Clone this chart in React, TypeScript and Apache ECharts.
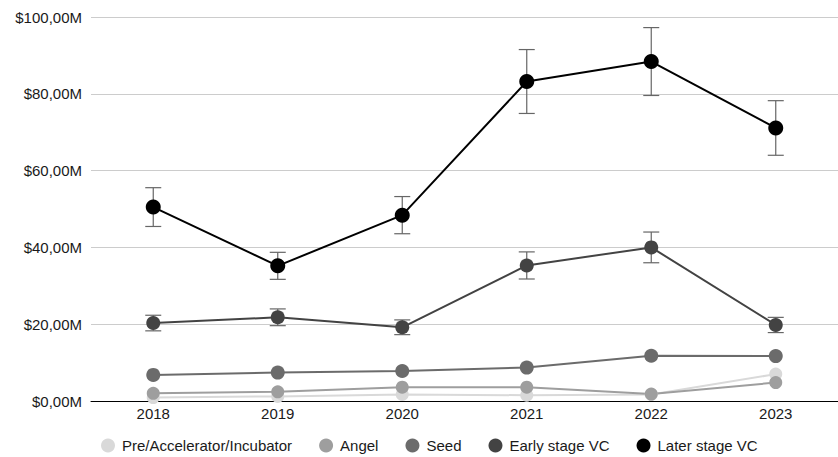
import React, { useEffect, useRef } from "react";
import * as echarts from "echarts";

const years = ["2018", "2019", "2020", "2021", "2022", "2023"];
const preAccelerator = [0.9, 1.2, 1.7, 1.5, 1.7, 7.0];
const angel = [2.0, 2.4, 3.6, 3.6, 1.8, 4.8];
const seed = [6.8, 7.4, 7.8, 8.7, 11.8, 11.7];
const earlyStage = [20.3, 21.8, 19.2, 35.3, 40.0, 19.8];
const laterStage = [50.5, 35.2, 48.4, 83.2, 88.4, 71.1];
const yTicks = [0, 20, 40, 60, 80, 100];
const errorPct = 0.1; // percent error bars, as in the source chart

const FONT = "Arial, 'Liberation Sans', sans-serif";

function errorSeries(values: number[]) {
  return {
    type: "custom",
    silent: true,
    z: 1,
    data: values.map((v, i) => [i, v * (1 - errorPct), v * (1 + errorPct)]),
    renderItem: (params: any, api: any) => {
      const x = api.value(0);
      const lo = api.coord([x, api.value(1)]);
      const hi = api.coord([x, api.value(2)]);
      const half = 8;
      const style = { stroke: "#666666", lineWidth: 1.2 };
      return {
        type: "group",
        children: [
          { type: "line", shape: { x1: lo[0], y1: lo[1], x2: hi[0], y2: hi[1] }, style },
          { type: "line", shape: { x1: hi[0] - half, y1: hi[1], x2: hi[0] + half, y2: hi[1] }, style },
          { type: "line", shape: { x1: lo[0] - half, y1: lo[1], x2: lo[0] + half, y2: lo[1] }, style },
        ],
      };
    },
  };
}

function lineSeries(name: string, data: number[], color: string, size: number) {
  return {
    name,
    type: "line",
    data,
    z: 3,
    symbol: "circle",
    symbolSize: size,
    itemStyle: { color },
    lineStyle: { color, width: 2 },
  };
}

export default function App() {
  const ref = useRef<HTMLDivElement>(null);
  useEffect(() => {
    document.body.style.margin = "0";
    const chart = echarts.init(ref.current!, undefined, { renderer: "svg" });
    chart.setOption({
      animation: false,
      backgroundColor: "#ffffff",
      textStyle: { fontFamily: FONT },
      grid: { left: 91, top: 17, width: 756, height: 384 },
      legend: {
        data: ["Pre/Accelerator/Incubator", "Angel", "Seed", "Early stage VC", "Later stage VC"],
        left: 96,
        top: 433,
        icon: "circle",
        itemWidth: 14,
        itemHeight: 14,
        itemGap: 27,
        textStyle: { fontSize: 15, color: "#1a1a1a", fontFamily: FONT, padding: [0, 0, 0, 2] },
      },
      xAxis: {
        type: "category",
        data: years,
        boundaryGap: true,
        axisLine: { lineStyle: { color: "#000000", width: 1 } },
        axisTick: { show: false },
        axisLabel: { fontSize: 15, color: "#1a1a1a", margin: 5, fontFamily: FONT },
      },
      yAxis: {
        type: "value",
        min: yTicks[0],
        max: yTicks[yTicks.length - 1],
        interval: 20,
        axisLine: { show: false },
        axisTick: { show: false },
        splitLine: { lineStyle: { color: "#cccccc", width: 1 } },
        axisLabel: {
          fontSize: 15,
          color: "#1a1a1a",
          margin: 9,
          fontFamily: FONT,
          formatter: (v: number) => `$${v},00M`,
        },
      },
      series: [
        errorSeries(earlyStage),
        errorSeries(laterStage),
        lineSeries("Pre/Accelerator/Incubator", preAccelerator, "#d9d9d9", 13),
        lineSeries("Angel", angel, "#9e9e9e", 13),
        lineSeries("Seed", seed, "#6b6b6b", 14),
        lineSeries("Early stage VC", earlyStage, "#434343", 14),
        lineSeries("Later stage VC", laterStage, "#000000", 15),
      ],
    });
    return () => chart.dispose();
  }, []);
  return <div ref={ref} style={{ width: 838, height: 457 }} />;
}
